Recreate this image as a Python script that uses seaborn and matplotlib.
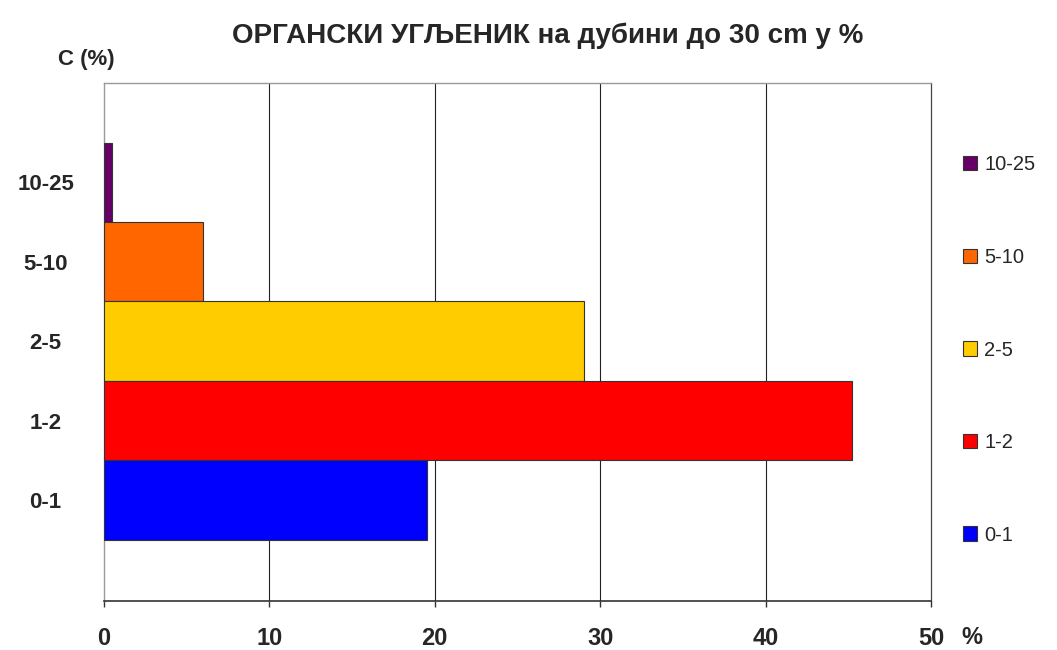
import pandas as pd
import seaborn as sns
import matplotlib
matplotlib.use("Agg")
import matplotlib.pyplot as plt

# classes of organic carbon content, top of chart first
classes = ["10-25", "5-10", "2-5", "1-2", "0-1"]
shares = [0.5, 6.0, 29.0, 45.2, 19.5]
colors = ["#660066", "#FF6600", "#FFCC00", "#FF0000", "#0000FF"]
x_ticks = [0, 10, 20, 30, 40, 50]

sns.set_style("white")
plt.rcParams["font.family"] = ["Liberation Sans", "DejaVu Sans"]

data = pd.DataFrame({"class": classes, "share": shares})
palette = dict(zip(classes, colors))

fig = plt.figure(figsize=(10.57, 6.5), dpi=100)
ax = fig.add_axes([104 / 1057, 1 - 601 / 650, (931 - 104) / 1057, (601 - 83) / 650])

sns.barplot(data=data, x="share", y="class", hue="class", order=classes,
            hue_order=classes, palette=palette, width=1, dodge=False,
            orient="h", edgecolor="#333333", linewidth=0.8, saturation=1,
            legend=True, ax=ax, zorder=3)

ax.set_xlim(0, 50)
ax.set_ylim(5.27, -1.25)
ax.set_xticks(x_ticks)
ax.set_xticklabels([str(t) for t in x_ticks], fontsize=17, fontweight="bold")
ax.set_xlabel("")
ax.set_ylabel("")
for lab in ax.get_yticklabels():
    lab.set_fontsize(16)
    lab.set_fontweight("bold")
    lab.set_horizontalalignment("center")
ax.tick_params(axis="y", length=0, pad=42)
ax.tick_params(axis="x", length=4, width=1, color="#333333", direction="out",
               pad=15, bottom=True)

for v in x_ticks[1:-1]:
    ax.axvline(v, color="#222222", linewidth=0.8, zorder=1)

for side in ["top", "left"]:
    ax.spines[side].set_color("#999999")
    ax.spines[side].set_linewidth(1)
ax.spines["right"].set_color("#444444")
ax.spines["right"].set_linewidth(0.9)
ax.spines["bottom"].set_color("#333333")
ax.spines["bottom"].set_linewidth(1.2)

fig.text(548 / 1057, 1 - 36 / 650,
         "ОРГАНСКИ УГЉЕНИК на дубини до 30 cm у %",
         ha="center", va="center", fontsize=20, fontweight="bold")
fig.text(86 / 1057, 1 - 60 / 650, "C (%)", ha="center", va="center",
         fontsize=16, fontweight="bold")
fig.text(972 / 1057, 1 - 637 / 650, "%", ha="center", va="center",
         fontsize=17, fontweight="bold")

leg = ax.legend(loc="center left", bbox_to_anchor=(963 / 1057, 1 - 350 / 650),
                bbox_transform=fig.transFigure, frameon=False, fontsize=14.5,
                labelspacing=3.65, handlelength=0.7, handleheight=0.7,
                handletextpad=0.35, borderpad=0, borderaxespad=0)

fig.savefig("out.png", dpi=100)
